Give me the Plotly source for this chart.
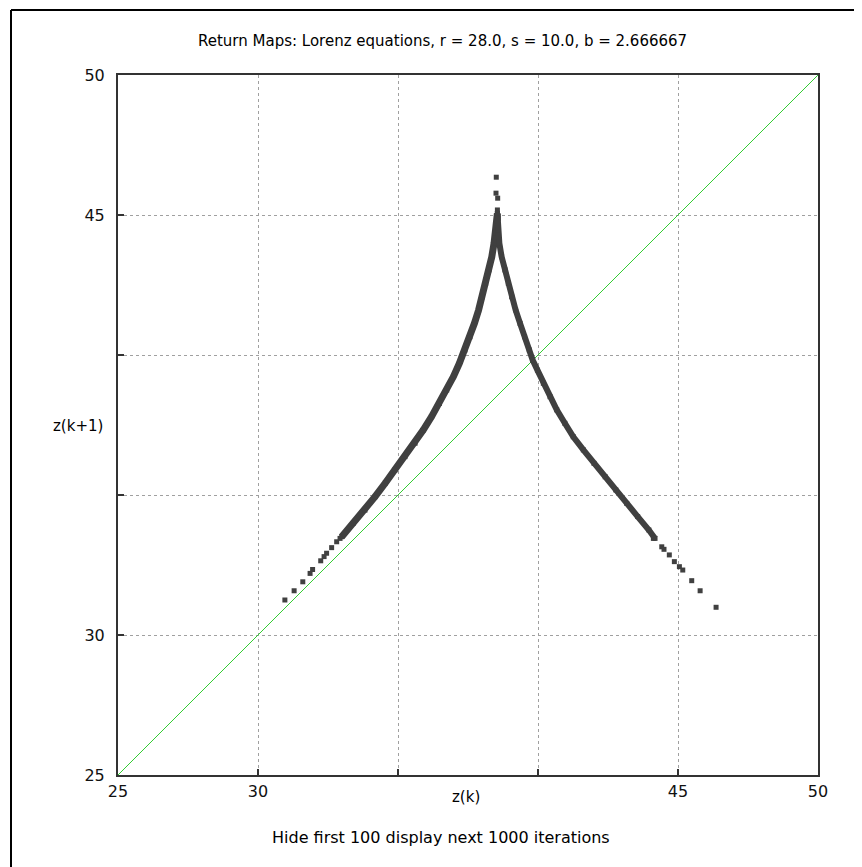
import plotly.graph_objects as go

# ---- data ----
# dense part of the left branch (z(k), z(k+1))
left_zk = [32.99, 33.40, 33.82, 34.18, 34.54, 34.89, 35.25, 35.61, 35.90, 36.20,
           36.48, 36.74, 36.98, 37.19, 37.39, 37.57, 37.73, 37.88, 38.01, 38.13,
           38.25, 38.35, 38.43, 38.48, 38.52, 38.55]
left_zk1 = [33.51, 33.99, 34.46, 34.94, 35.42, 35.89, 36.37, 36.85, 37.32, 37.80,
            38.27, 38.75, 39.23, 39.70, 40.18, 40.65, 41.13, 41.61, 42.08, 42.56,
            43.04, 43.51, 43.99, 44.35, 44.70, 45.06]

# dense part of the right branch
right_zk = [38.55, 38.58, 38.62, 38.70, 38.82, 38.94, 39.06, 39.20, 39.36, 39.52,
            39.69, 39.81, 39.98, 40.19, 40.43, 40.67, 40.96, 41.26, 41.62, 42.00,
            42.40, 42.78, 43.17, 43.56, 43.96, 44.18]
right_zk1 = [45.06, 44.46, 43.99, 43.51, 43.04, 42.56, 42.08, 41.61, 41.13, 40.65,
             40.18, 39.82, 39.46, 38.99, 38.51, 38.04, 37.56, 37.08, 36.61, 36.13,
             35.65, 35.18, 34.70, 34.23, 33.75, 33.45]

# isolated iterates (tails of both branches and the tip of the cusp)
sparse_zk = [30.96, 31.29, 31.60, 31.86, 31.95, 32.24, 32.36, 32.45, 32.63, 32.81, 32.93,
             44.12, 44.42, 44.50, 44.69, 44.87, 45.05, 45.17, 45.49, 45.79, 46.36,
             38.51, 38.50, 38.56, 38.55, 38.58]
sparse_zk1 = [31.25, 31.58, 31.90, 32.20, 32.34, 32.65, 32.80, 32.92, 33.12, 33.33, 33.45,
              33.45, 33.15, 33.06, 32.86, 32.62, 32.44, 32.32, 31.94, 31.58, 30.99,
              46.35, 45.78, 45.60, 45.18, 44.88]

# identity line z(k+1) = z(k)
diag = [25, 50]

tick_vals = [25, 30, 35, 40, 45, 50]
tick_text = ["25", "30", "", "", "45", "50"]

title_text = "Return Maps: Lorenz equations, r = 28.0, s = 10.0, b = 2.666667"
footer_text = "Hide first 100 display next 1000 iterations"

FONT = "DejaVu Sans"
DOT = "#404040"

# page body has an 8px margin: plot area must land at x 118..818, y 75..775
OFF = 8
L, T = 118 - OFF, 75 - OFF
W, H = 862 - OFF, 867 - OFF
PW = 700


def px(xp):
    return (xp - 118) / PW


def py(yp):
    return (775 - yp) / PW


fig = go.Figure()

fig.add_trace(go.Scatter(x=diag, y=diag, mode="lines",
                         line=dict(color="#33cc33", width=1), hoverinfo="skip"))

fig.add_trace(go.Scatter(x=left_zk, y=left_zk1, mode="lines+markers",
                         line=dict(color=DOT, width=7),
                         marker=dict(symbol="square", size=5, color=DOT)))
fig.add_trace(go.Scatter(x=right_zk, y=right_zk1, mode="lines+markers",
                         line=dict(color=DOT, width=6),
                         marker=dict(symbol="square", size=5, color=DOT)))
fig.add_trace(go.Scatter(x=sparse_zk, y=sparse_zk1, mode="markers",
                         marker=dict(symbol="square", size=5, color=DOT,
                                     line=dict(width=0))))

axis_common = dict(
    range=[25, 50], tickvals=tick_vals, ticktext=tick_text,
    ticks="inside", ticklen=6, tickwidth=2, tickcolor="#333333",
    showgrid=True, gridcolor="#a0a0a0", gridwidth=1, griddash="dot",
    showline=True, linecolor="#333333", linewidth=2, mirror=True,
    zeroline=False, fixedrange=True,
    tickfont=dict(family=FONT, size=16, color="#111111"),
)

fig.update_layout(
    width=W, height=H,
    margin=dict(l=L, r=W - L - PW, t=T, b=H - T - PW),
    paper_bgcolor="white", plot_bgcolor="white",
    showlegend=False,
    xaxis=dict(axis_common, ticklabelstandoff=1),
    yaxis=dict(axis_common, ticklabelstandoff=8),
    annotations=[
        dict(text=title_text, xref="paper", yref="paper",
             x=px(442), y=py(41),
             xanchor="center", yanchor="middle", showarrow=False,
             font=dict(family=FONT, size=15, color="black")),
        dict(text="z(k)", xref="paper", yref="paper",
             x=px(466), y=py(797),
             xanchor="center", yanchor="middle", showarrow=False,
             font=dict(family=FONT, size=15, color="black")),
        dict(text="z(k+1)", xref="paper", yref="paper",
             x=px(78), y=py(426),
             xanchor="center", yanchor="middle", showarrow=False,
             font=dict(family=FONT, size=15, color="black")),
        dict(text=footer_text, xref="paper", yref="paper",
             x=px(441), y=py(837),
             xanchor="center", yanchor="middle", showarrow=False,
             font=dict(family=FONT, size=16, color="black")),
    ],
    shapes=[
        dict(type="line", xref="paper", yref="paper",
             x0=px(11), x1=px(11), y0=-0.2, y1=py(10),
             line=dict(color="black", width=2)),
        dict(type="line", xref="paper", yref="paper",
             x0=px(11), x1=1.1, y0=py(10), y1=py(10),
             line=dict(color="black", width=2)),
    ],
)

fig.write_html("out.html")
